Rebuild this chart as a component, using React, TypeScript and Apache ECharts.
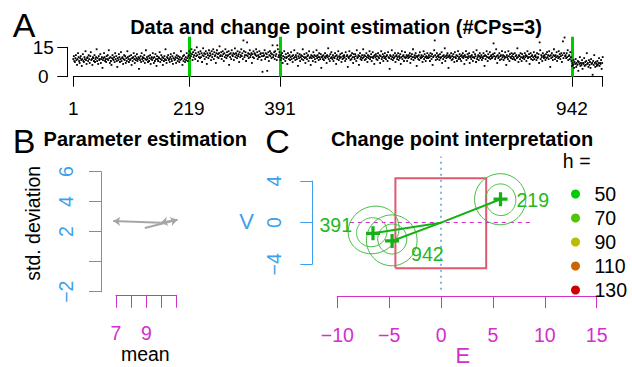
import React, { useEffect, useRef } from 'react';
import * as echarts from 'echarts';

// ---------- Panel A: data and change points ----------
const seg1 = [
  9, 10.5, 8, 7.5, 9.5, 11, 8.5, 6, 9, 12, 10, 8, 7, 9.5, 10.5, 8.5, 5.5, 9, 11.5, 8,
  7.5, 10, 9, 13, 8.5, 6.5, 9.5, 10, 8, 11, 9, 7, 10.5, 12.5, 8.5, 9, 6, 10, 9.5, 8,
  11, 7.5, 9, 10, 14, 8, 9.5, 6.5, 10.5, 8.5, 9, 11.5, 7, 9, 10, 4.5, 8.5, 9.5, 12, 10,
  8, 9, 7.5, 10.5, 9, 11, 8.5, 13.5, 9.5, 7, 10, 8, 6, 9.5, 11, 9, 8.5, 10, 7.5, 12,
  9, 10.5, 8, 5, 9.5, 8.5, 11.5, 10, 7.5, 9, 12.5, 8, 9.5, 10, 6.5, 9, 11, 8.5, 10.5, 7,
  9.5, 8, 13, 10, 9, 7.5, 10.5, 8.5, 9, 11, 6, 9.5, 8, 10, 12, 9, 7, 10.5, 8.5, 9.5,
  11.5, 8, 9, 10, 4, 9.5, 8.5, 10.5, 7.5, 12, 9, 10, 8, 9.5, 11, 7, 9, 13.5, 8.5, 10,
  9, 7.5, 10.5, 8, 9.5, 11, 6.5, 9, 10, 8.5, 12, 9.5, 7, 10, 8, 11.5, 9, 5.5, 10.5, 9,
  8, 10, 9.5, 12.5, 7.5, 9, 11, 8.5, 10, 6, 9.5, 8, 10.5, 9, 14, 8.5, 7, 10, 9.5, 11,
  8.5, 9, 7.5, 10, 11.5, 9, 8, 10.5, 6.5, 9.5, 12, 8.5, 9, 10, 7, 11, 9.5, 8, 10.5, 9,
  7.5, 10, 8.5, 13, 9, 9.5, 6, 10.5, 8, 11, 9, 7.5, 10, 8.5, 12, 9.5, 8, 10.5,
];
const seg2 = [
  11, 13, 9.5, 12, 10.5, 14, 11.5, 8.5, 12.5, 10, 11, 13.5, 9, 12, 10.5, 15, 11, 8, 12.5, 10,
  11.5, 9.5, 13, 10, 12, 7.5, 11, 14.5, 10.5, 12, 9, 11.5, 13, 10, 6.5, 12, 11, 9.5, 13.5, 10.5,
  12, 11, 8.5, 13, 10, 11.5, 14, 9, 12.5, 10.5, 11, 7, 12, 13.5, 10, 11.5, 9.5, 12, 15.5, 10.5,
  11, 12.5, 9, 10.5, 13, 11.5, 8, 12, 10, 14, 11, 9.5, 12.5, 10.5, 11, 13, 6, 11.5, 10, 12,
  9, 13.5, 11, 10.5, 12, 8.5, 11.5, 14.5, 10, 12, 11, 9.5, 13, 10.5, 11.5, 7.5, 12.5, 10, 11, 14,
  10.5, 12, 9, 18.5, 13, 10, 11, 12.5, 8, 11, 17.5, 10.5, 12, 9.5, 11.5, 13.5, 10, 11, 12, 7,
  11.5, 10, 13, 9.5, 12, 11.5, 11, 14, 10.5, 12.5, 9, 11, 10, 13, 10, 11.5, 12, 8.5, 10.5, 2.5,
  12, 10.5, 11, 13.5, 9, 12, 10, 11.5, 3, 10, 12.5, 8, 11, 13, 10.5, 12, 9.5, 11.5, 16, 10,
  11, 12.5, 9, 13, 10.5, 11.5, 8.5, 16, 14, 10, 11, 12.5,
];
const seg3 = [
  10, 8.5, 11, 9.5, 12, 7, 10.5, 9, 13, 10, 8, 11.5, 9.5, 10, 6.5, 12, 10.5, 9, 11, 8.5,
  10, 12.5, 9, 10.5, 7.5, 11, 9.5, 13.5, 10, 8.5, 11, 10, 9, 12, 5.5, 10.5, 9.5, 11.5, 8, 10,
  11, 9, 10.5, 14, 8.5, 10, 11.5, 9.5, 7, 10, 12, 9, 10.5, 11, 8, 13, 9.5, 10, 6, 11,
  9.5, 10.5, 8, 12.5, 10, 11, 9, 7.5, 10.5, 13.5, 9.5, 11, 10, 8.5, 12, 10, 9, 11.5, 4.5, 10,
  10.5, 9, 11, 8.5, 10, 12, 9.5, 10.5, 7, 11, 10, 14.5, 9, 10.5, 8, 11.5, 9.5, 12.5, 10, 9,
  11, 8, 10, 9.5, 12, 10.5, 6.5, 11, 9, 10, 13, 8.5, 10.5, 9.5, 11.5, 10, 7.5, 12, 9, 10.5,
  9.5, 11, 10, 8, 12.5, 9, 10.5, 11, 5, 10, 9.5, 13, 10.5, 8.5, 11, 9, 12, 10, 7, 11.5,
  10, 9, 11.5, 10.5, 8, 13.5, 9.5, 10, 11, 6, 10.5, 12, 9, 10, 8.5, 11, 9.5, 14, 10, 11,
  8.5, 10.5, 9, 12, 10, 7.5, 11, 9.5, 10.5, 13, 9, 10, 11.5, 8, 10, 12.5, 9.5, 10.5, 6.5, 11,
  10, 11.5, 9, 10.5, 8.5, 12, 10, 9.5, 11, 7, 10.5, 13, 9, 10, 11.5, 8, 10.5, 9.5, 12, 10,
  9, 10.5, 11, 8, 12.5, 10, 9.5, 4, 11, 10.5, 9, 13.5, 10, 8.5, 11, 9.5, 10, 12, 7.5, 10.5,
  11, 9, 10, 12, 8.5, 10.5, 9.5, 11.5, 6.5, 10, 13, 9, 10.5, 11, 8, 10, 12.5, 9.5, 10, 11,
  8, 10.5, 9.5, 11, 10, 12, 7, 10.5, 9, 11.5, 10, 14, 8.5, 10, 11, 9.5, 12, 10.5, 5.5, 10,
  10.5, 9, 11, 8.5, 12.5, 10, 9.5, 11, 10, 7.5, 10.5, 13, 9, 11.5, 10, 8, 10.5, 9.5, 12, 10,
  9.5, 11, 10, 8, 12, 10.5, 9, 11.5, 6, 10, 10.5, 13.5, 18.5, 11, 8.5, 10, 12, 9, 10.5, 11,
  10, 8.5, 11.5, 9.5, 10, 12.5, 7, 10.5, 9, 11, 10, 14.5, 8, 10.5, 9.5, 11, 12, 10, 4.5, 10.5,
  11, 9.5, 10, 12, 8.5, 10.5, 9, 11.5, 10, 7.5, 12.5, 10, 9.5, 11, 8, 10.5, 13, 9, 10, 11.5,
  9, 10.5, 8, 11, 10, 12, 9.5, 10.5, 6.5, 11, 10, 13, 8.5, 10, 11.5, 9.5, 10.5, 12, 7, 10,
  10.5, 9, 11, 10, 8, 12.5, 10, 9.5, 11.5, 10.5, 7.5, 13.5, 9, 10, 11, 8.5, 10.5, 12, 9.5, 10,
  11, 8.5, 10, 9.5, 12, 10.5, 5.5, 11, 9, 10.5, 13, 10, 8, 11.5, 9.5, 10, 12.5, 9, 10.5, 11,
  9.5, 10, 11.5, 17, 10.5, 12, 9, 10, 14, 10.5, 7, 11, 9.5, 10, 12, 8.5, 10.5, 11, 9, 13,
  10, 11, 8.5, 10.5, 9.5, 12.5, 10, 6, 11, 10, 9, 13, 10.5, 8, 11.5, 10, 9.5, 12, 10.5, 9,
  11.5, 10, 9, 12, 8.5, 10.5, 11, 9.5, 14.5, 10, 7.5, 11, 10.5, 9, 12, 10, 8, 11.5, 9.5, 10,
  10.5, 9, 12, 10, 11, 8, 10.5, 13, 9.5, 10, 11.5, 6.5, 10, 12, 9, 10.5, 11, 8.5, 10, 12.5,
  9, 10.5, 11, 10, 8.5, 12, 9.5, 10, 11.5, 7, 17.5, 13.5, 9, 11, 10, 8, 12, 10.5, 9.5, 11,
  10, 8.5, 11.5, 9.5, 12.5, 10, 11, 9, 13, 10.5, 5, 11, 9.5, 12, 10, 8.5, 11, 14, 10.5, 9,
  11, 10, 12.5, 8, 10.5, 9.5, 13, 10, 11.5, 9, 10.5, 12, 7.5, 11, 18, 9.5, 12, 20, 10.5, 11,
  9.5, 12, 10, 13.5, 8.5, 10.5, 11, 9, 12.5, 10, 8,
];
const seg4 = [
  5.5, 7, 6, 8.5, 4.5, 7.5, 6.5, 9, 5, 7, 6, 8, 3, 7.5, 6.5, 10, 5.5, 7, 6, 8.5,
  4, 7, 6.5, 9.5, 5.5, 7.5, 6, 8, 12, 6.5, 7, 5, 8.5, 6, 7.5, 4.5, 9, 6.5, 7, 1,
  8, 6, 11, 7, 5, 7.5, 6.5, 5.5, 8, 6, 7, 9.5, 5.5, 7, 6.5, 8.5, 4, 7, 10,
];
const changePoints = [219, 391, 942];
const timeTickValues = [1, 219, 391, 942, 1000];
const timeLabelValues = [1, 219, 391, 942];
const cpLineRange = [0, 20.4];

// ---------- Panel B: parameter estimation ----------
const segMeans = [8.9, 11.05, 9.95, 6.82];
const segSds = [2.25, 2.8, 2.6, 2.71];
const meanLabelValues = [7, 9];
const sdLabelValues = [6, 4, 2, -2];

// ---------- Panel C: change point interpretation ----------
const cpNames = ['219', '391', '942'];
const cpE = [5.73, -6.56, -4.72];
const cpV = [2.25, -1.02, -1.76];
const ellipseE = [5.7, 5.75, -6.5, -6.68, -4.75, -4.7];
const ellipseV = [2.25, 2.2, -0.7, -0.92, -1.7, -1.57];
const ellipseRx = [2.47, 1.45, 2.5, 1.48, 2.44, 1.4];
const ellipseRy = [2.45, 1.52, 2.24, 1.38, 2.44, 1.44];
const ellipseTilt = [10, 10, 25, 20, 0, 0];
const squareE = [-4.4, 4.35];
const squareV = [-4.38, 4.27];
const zeroVLineRange = [-6.45, 6.35];
const zeroHLineRange = [-8.8, 8.6];
const hLevels = ['50', '70', '90', '110', '130'];
const hColors = ['#00CC00', '#55C400', '#BBBB00', '#CC6600', '#CC0000'];

const FONT = "'Liberation Sans', Arial, Helvetica, sans-serif";
const BLUE = '#3E9FEA';
const MAGENTA = '#D22FCB';
const GREEN = '#14B014';
const minus = (v: number) => String(v).replace('-', '\u2212');

const cpLabelLayout = [
  { position: 'right', distance: 9, offset: [0, 1] },
  { position: 'left', distance: 14, offset: [0, -8] },
  { position: 'right', distance: 12, offset: [0, 13] },
];

export default function App() {
  const ref = useRef<HTMLDivElement>(null);
  useEffect(() => {
    if (!ref.current) return;
    const chart = echarts.init(ref.current, undefined, { renderer: 'svg' });
    const allValues = [...seg1, ...seg2, ...seg3, ...seg4];
    const aData = allValues.map((v, i) => [i + 1, v]);

    const txt = (text: string, x: number, y: number, size: number, opts: any = {}) => ({
      type: 'text',
      x,
      y,
      rotation: opts.rotation || 0,
      silent: true,
      style: {
        text,
        fill: opts.color || '#000',
        font: `${opts.bold ? 'bold ' : ''}${size}px ${FONT}`,
        align: 'center',
        verticalAlign: 'middle',
      },
    });

    const option: any = {
      animation: false,
      textStyle: { fontFamily: FONT },
      grid: [
        { left: 73.3, top: 47.3, width: 529.4, height: 29.4, outerBoundsMode: 'none' },
        { left: 116, top: 171.7, width: 60.7, height: 120, outerBoundsMode: 'none' },
        { left: 337.3, top: 181, width: 259.4, height: 83.3, outerBoundsMode: 'none' },
      ],
      xAxis: [
        {
          gridIndex: 0, type: 'value', min: 1, max: 1000,
          axisLine: { show: true, onZero: false, lineStyle: { color: '#000', width: 1 } },
          axisTick: { show: true, length: 10, customValues: timeTickValues, lineStyle: { color: '#000' } },
          axisLabel: { customValues: timeLabelValues, margin: 22, fontSize: 19, color: '#000', fontFamily: FONT },
          splitLine: { show: false },
        },
        {
          gridIndex: 1, type: 'value', min: 7, max: 11, interval: 1, offset: 4,
          axisLine: { show: true, onZero: false, lineStyle: { color: MAGENTA, width: 1 } },
          axisTick: { show: true, length: 12, lineStyle: { color: MAGENTA } },
          axisLabel: {
            formatter: (v: number) => (meanLabelValues.includes(v) ? minus(v) : ''),
            margin: 27, fontSize: 19.5, color: MAGENTA, fontFamily: FONT,
          },
          splitLine: { show: false },
        },
        {
          gridIndex: 2, type: 'value', min: -10, max: 15, interval: 5, offset: 32.4,
          axisLine: { show: true, onZero: false, lineStyle: { color: MAGENTA, width: 1 } },
          axisTick: { show: true, length: 11.5, lineStyle: { color: MAGENTA } },
          axisLabel: { formatter: (v: number) => minus(v), margin: 28, fontSize: 19.5, color: MAGENTA, fontFamily: FONT },
          splitLine: { show: false },
        },
      ],
      yAxis: [
        {
          gridIndex: 0, type: 'value', min: 0, max: 15, interval: 15, offset: 6,
          axisLine: { show: true, onZero: false, lineStyle: { color: '#000', width: 1 } },
          axisTick: { show: true, length: 10, lineStyle: { color: '#000' } },
          axisLabel: { margin: 24, align: 'center', fontSize: 19, color: '#000', fontFamily: FONT },
          splitLine: { show: false },
        },
        {
          gridIndex: 1, type: 'value', min: -2, max: 6, interval: 2, offset: 15,
          axisLine: { show: true, onZero: false, lineStyle: { color: BLUE, width: 1 } },
          axisTick: { show: true, length: 12, lineStyle: { color: BLUE } },
          axisLabel: {
            rotate: 90,
            formatter: (v: number) => (sdLabelValues.includes(v) ? minus(v) : ''),
            margin: 25, fontSize: 19.5, color: BLUE, fontFamily: FONT,
          },
          splitLine: { show: false },
        },
        {
          gridIndex: 2, type: 'value', min: -4, max: 4, interval: 4, offset: 25,
          axisLine: { show: true, onZero: false, lineStyle: { color: BLUE, width: 1 } },
          axisTick: { show: true, length: 12, lineStyle: { color: BLUE } },
          axisLabel: { rotate: 90, formatter: (v: number) => minus(v), margin: 28, fontSize: 19.5, color: BLUE, fontFamily: FONT },
          splitLine: { show: false },
        },
      ],
      legend: {
        left: 566, top: 179, orient: 'vertical', selectedMode: false,
        icon: 'circle', itemWidth: 28, itemHeight: 9, itemGap: 4,
        textStyle: { fontSize: 19.5, lineHeight: 20, color: '#000', fontFamily: FONT, padding: 0 },
        data: hLevels,
      },
      series: [
        {
          type: 'scatter', name: 'data', xAxisIndex: 0, yAxisIndex: 0,
          data: aData, symbol: 'rect', symbolSize: 1.8, clip: false, silent: true,
          itemStyle: { color: '#000', opacity: 1 },
        },
        {
          type: 'lines', coordinateSystem: 'cartesian2d', xAxisIndex: 0, yAxisIndex: 0,
          clip: false, silent: true,
          data: changePoints.map((cp) => ({ coords: [[cp, cpLineRange[0]], [cp, cpLineRange[1]]] })),
          lineStyle: { color: '#00CC00', width: 3, opacity: 1 },
        },
        {
          type: 'lines', coordinateSystem: 'cartesian2d', xAxisIndex: 1, yAxisIndex: 1,
          clip: false, silent: true, symbol: ['none', 'arrow'], symbolSize: 7,
          data: segMeans.slice(0, -1).map((m, k) => ({
            coords: [[m, segSds[k]], [segMeans[k + 1], segSds[k + 1]]],
          })),
          lineStyle: { color: '#A6A6A6', width: 2, opacity: 1 },
        },
        {
          type: 'lines', coordinateSystem: 'cartesian2d', xAxisIndex: 2, yAxisIndex: 2,
          clip: false, silent: true, polyline: true,
          data: [{
            coords: [
              [squareE[0], squareV[0]], [squareE[1], squareV[0]], [squareE[1], squareV[1]],
              [squareE[0], squareV[1]], [squareE[0], squareV[0]],
            ],
          }],
          lineStyle: { color: '#E2586F', width: 2, opacity: 1 },
        },
        {
          type: 'lines', coordinateSystem: 'cartesian2d', xAxisIndex: 2, yAxisIndex: 2,
          clip: false, silent: true,
          data: [{ coords: [[0, zeroVLineRange[0]], [0, zeroVLineRange[1]]] }],
          lineStyle: { color: '#7DB9E8', width: 2, type: [2, 4], opacity: 1 },
        },
        {
          type: 'lines', coordinateSystem: 'cartesian2d', xAxisIndex: 2, yAxisIndex: 2,
          clip: false, silent: true,
          data: [{ coords: [[zeroHLineRange[0], 0], [zeroHLineRange[1], 0]] }],
          lineStyle: { color: MAGENTA, width: 1, type: [4, 4], opacity: 1 },
        },
        {
          type: 'custom', xAxisIndex: 2, yAxisIndex: 2, clip: false, silent: true,
          data: ellipseE.map((e, i) => [e, ellipseV[i], ellipseRx[i], ellipseRy[i], ellipseTilt[i]]),
          encode: { x: 0, y: 1 },
          renderItem: (params: any, api: any) => {
            const e = api.value(0), v = api.value(1), rx = api.value(2), ry = api.value(3);
            const t = (api.value(4) * Math.PI) / 180;
            const pts: number[][] = [];
            for (let k = 0; k <= 90; k++) {
              const a = (k / 90) * Math.PI * 2;
              const dx = rx * Math.cos(a), dy = ry * Math.sin(a);
              pts.push(api.coord([e + dx * Math.cos(t) - dy * Math.sin(t), v + dx * Math.sin(t) + dy * Math.cos(t)]));
            }
            return { type: 'polyline', shape: { points: pts }, style: { stroke: '#3DBB3D', lineWidth: 1, fill: 'none' } };
          },
        },
        {
          type: 'lines', coordinateSystem: 'cartesian2d', xAxisIndex: 2, yAxisIndex: 2,
          clip: false, silent: true,
          data: cpE.map((e, i) => ({ coords: [[0, 0], [e, cpV[i]]] })),
          lineStyle: { color: GREEN, width: 2, opacity: 1 },
        },
        {
          type: 'scatter', name: 'cp', xAxisIndex: 2, yAxisIndex: 2, clip: false, silent: true,
          symbol: 'path://M5,0H8V5H13V8H8V13H5V8H0V5H5Z', symbolSize: 14,
          itemStyle: { color: GREEN, opacity: 1 },
          data: cpE.map((e, i) => ({
            value: [e, cpV[i]],
            label: {
              show: true, formatter: cpNames[i], color: '#22B822', fontSize: 19.5, fontFamily: FONT,
              ...cpLabelLayout[i],
            },
          })),
        },
        ...hLevels.map((h, i) => ({
          type: 'scatter', name: h, xAxisIndex: 2, yAxisIndex: 2, data: [],
          itemStyle: { color: hColors[i], opacity: 1 },
        })),
      ],
      graphic: [
        txt('A', 24, 24.5, 34),
        txt('Data and change point estimation (#CPs=3)', 336, 27, 20, { bold: true }),
        txt('B', 24.2, 140.5, 34),
        txt('Parameter estimation', 145.3, 139, 20, { bold: true }),
        txt('C', 277.5, 141, 34),
        txt('Change point interpretation', 462, 138.5, 20, { bold: true }),
        txt('std. deviation', 33, 223.3, 19.5, { rotation: Math.PI / 2 }),
        txt('mean', 145.3, 354, 19.5),
        txt('V', 246.5, 221, 22, { color: BLUE }),
        txt('E', 462.8, 355, 22, { color: MAGENTA }),
        txt('h =', 576.7, 160.5, 19.5),
      ],
    };
    chart.setOption(option);
    return () => chart.dispose();
  }, []);
  return <div ref={ref} style={{ position: 'absolute', left: 0, top: 0, width: 632, height: 367 }} />;
}
